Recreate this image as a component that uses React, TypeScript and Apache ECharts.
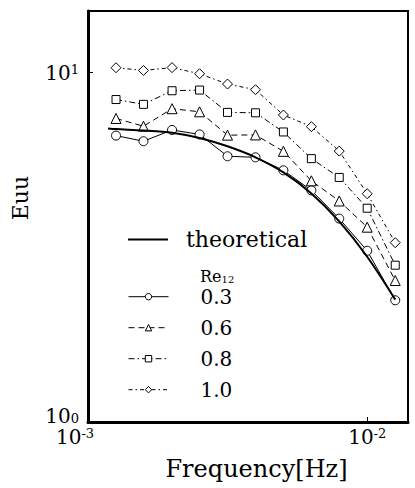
import React, { useEffect, useRef } from 'react';
import * as echarts from 'echarts';

// Frequency [Hz] of the measured points
const frequency = [0.00126, 0.00158, 0.002, 0.00251, 0.00316, 0.00398, 0.00501, 0.00631, 0.00794, 0.01, 0.0126];
// Frequency [Hz] of the theoretical curve
const theoryFrequency = [0.00118, 0.00126, 0.00158, 0.002, 0.00251, 0.00316, 0.00398, 0.00501, 0.00631, 0.00794, 0.01, 0.0126];
const theoretical = [6.92, 6.89, 6.83, 6.73, 6.5, 6.15, 5.72, 5.18, 4.51, 3.75, 2.97, 2.24];
const re03 = [6.6, 6.36, 6.85, 6.65, 5.76, 5.72, 5.25, 4.6, 3.82, 3.09, 2.23];
const re06 = [7.39, 7.02, 7.88, 7.72, 6.62, 6.63, 5.95, 4.9, 4.29, 3.61, 2.54];
const re08 = [8.37, 8.11, 8.87, 8.91, 7.69, 7.67, 6.76, 5.67, 5.01, 4.09, 2.81];
const re10 = [10.32, 10.14, 10.33, 9.92, 9.27, 8.93, 7.56, 7.0, 5.96, 4.5, 3.26];
const reLabels = ['0.3', '0.6', '0.8', '1.0'];
const xTicks = [0.001, 0.01];
const yTicks = [1, 10];
const xMax = 0.014;
const yMax = 15;

const FONT = 'DejaVu Serif';

function isTick(v: number, ticks: number[]) {
  return ticks.some((t) => Math.abs(Math.log10(v) - Math.log10(t)) < 1e-6);
}

export default function App() {
  const ref = useRef<HTMLDivElement>(null);

  useEffect(() => {
    if (!ref.current) return;
    const chart = echarts.init(ref.current, null, { renderer: 'svg' });

    const markerStyle = { color: '#fff', borderColor: '#000', borderWidth: 1 };
    const mk = (name: string, vals: number[], symbol: string, size: number, type: any) => ({
      type: 'line',
      name,
      data: frequency.map((f, i) => [f, vals[i]]),
      symbol,
      symbolSize: size,
      showAllSymbol: true,
      itemStyle: markerStyle,
      lineStyle: { color: '#000', width: 1, type },
      silent: true,
      z: 2,
    });

    const baseRich = {
      b: { fontFamily: FONT, fontSize: 20, lineHeight: 20, color: '#000' },
      s: { fontFamily: FONT, fontSize: 13, lineHeight: 8, color: '#000', verticalAlign: 'top' },
    };

    chart.setOption({
      animation: false,
      backgroundColor: '#fff',
      grid: {
        left: 88,
        right: 7,
        top: 11,
        bottom: 66,
        show: true,
        borderColor: '#000',
        borderWidth: 2,
        containLabel: false,
        outerBoundsMode: 'none',
      },
      xAxis: {
        type: 'log',
        logBase: 10,
        min: xTicks[0],
        max: xMax,
        axisLine: { show: true, onZero: false, lineStyle: { color: '#000', width: 3 } },
        axisTick: { show: true, inside: true, length: 5, lineStyle: { color: '#000', width: 1 } },
        minorTick: { show: false },
        splitLine: { show: false },
        axisLabel: {
          margin: 5,
          color: '#000',
          showMaxLabel: false,
          formatter: (v: number) => {
            if (!isTick(v, xTicks)) return '';
            const e = Math.round(Math.log10(v));
            if (Math.abs(v - xTicks[0]) < 1e-9) return `{b|10}{sm|${e}}`;
            return `{b|10}{s|${e}}`;
          },
          rich: {
            ...baseRich,
            sm: { fontFamily: FONT, fontSize: 13, lineHeight: 8, color: '#000', verticalAlign: 'top', padding: [0, 26, 0, 0] },
          },
        },
        name: 'Frequency[Hz]',
        nameLocation: 'middle',
        nameGap: 35,
        nameTextStyle: { fontFamily: FONT, fontSize: 24, color: '#000', padding: [0, 0, 0, 17] },
      },
      yAxis: {
        type: 'log',
        logBase: 10,
        min: yTicks[0],
        max: yMax,
        axisLine: { show: true, onZero: false, lineStyle: { color: '#000', width: 3 } },
        axisTick: { show: true, inside: true, length: 5, lineStyle: { color: '#000', width: 1 } },
        minorTick: { show: false },
        splitLine: { show: false },
        axisLabel: {
          margin: 9,
          color: '#000',
          showMaxLabel: false,
          formatter: (v: number) => {
            if (!isTick(v, yTicks)) return '';
            const e = Math.round(Math.log10(v));
            if (Math.abs(v - yTicks[0]) < 1e-9) return `{b0|10}{s0|${e}}`;
            return `{b|10}{s|${e}}`;
          },
          rich: {
            ...baseRich,
            b0: { fontFamily: FONT, fontSize: 20, lineHeight: 20, color: '#000', padding: [0, 0, 12, 0] },
            s0: { fontFamily: FONT, fontSize: 13, lineHeight: 8, color: '#000', verticalAlign: 'top' },
          },
        },
        name: 'Euu',
        nameLocation: 'middle',
        nameGap: 57,
        nameTextStyle: { fontFamily: FONT, fontSize: 22, color: '#000', padding: [0, 0, 0, 37] },
      },
      legend: [
        {
          data: [{ name: 'theoretical', icon: 'rect' }],
          left: 128,
          top: 228.5,
          padding: 0,
          itemWidth: 40,
          itemHeight: 2,
          selectedMode: false,
          itemStyle: { borderWidth: 0 },
          textStyle: { fontFamily: FONT, fontSize: 22, lineHeight: 22, color: '#000', padding: [0, 0, 0, 13] },
        },
        {
          data: reLabels,
          orient: 'vertical',
          left: 128,
          top: 286.7,
          padding: 0,
          itemWidth: 40,
          itemHeight: 8,
          itemGap: 11,
          selectedMode: false,
          itemStyle: { borderWidth: 1 },
          lineStyle: { width: 1 },
          textStyle: { fontFamily: FONT, fontSize: 20, lineHeight: 20, color: '#000', padding: [0, 0, 0, 27] },
        },
      ],
      graphic: [
        {
          type: 'text',
          x: 200,
          y: 276,
          silent: true,
          style: {
            text: '{a|Re}{c|12}',
            verticalAlign: 'middle',
            rich: {
              a: { fontFamily: FONT, fontSize: 16, lineHeight: 16, fill: '#000' },
              c: { fontFamily: FONT, fontSize: 10, lineHeight: 10, fill: '#000', verticalAlign: 'bottom' },
            },
          },
        },
      ],
      series: [
        mk(reLabels[0], re03, 'circle', 9, 'solid'),
        mk(reLabels[1], re06, 'triangle', 10, [6, 4]),
        mk(reLabels[2], re08, 'rect', 8, [6, 3, 1.5, 3]),
        mk(reLabels[3], re10, 'diamond', 10, [4, 3, 1.5, 3]),
        {
          type: 'line',
          name: 'theoretical',
          data: theoryFrequency.map((f, i) => [f, theoretical[i]]),
          symbol: 'none',
          smooth: 0.3,
          itemStyle: { color: '#000' },
          lineStyle: { color: '#000', width: 2 },
          silent: true,
          z: 3,
        },
      ],
    });

    return () => chart.dispose();
  }, []);

  return (
    <div
      ref={ref}
      style={{ position: 'fixed', left: 0, top: 0, width: 415, height: 488, background: '#fff' }}
    />
  );
}
